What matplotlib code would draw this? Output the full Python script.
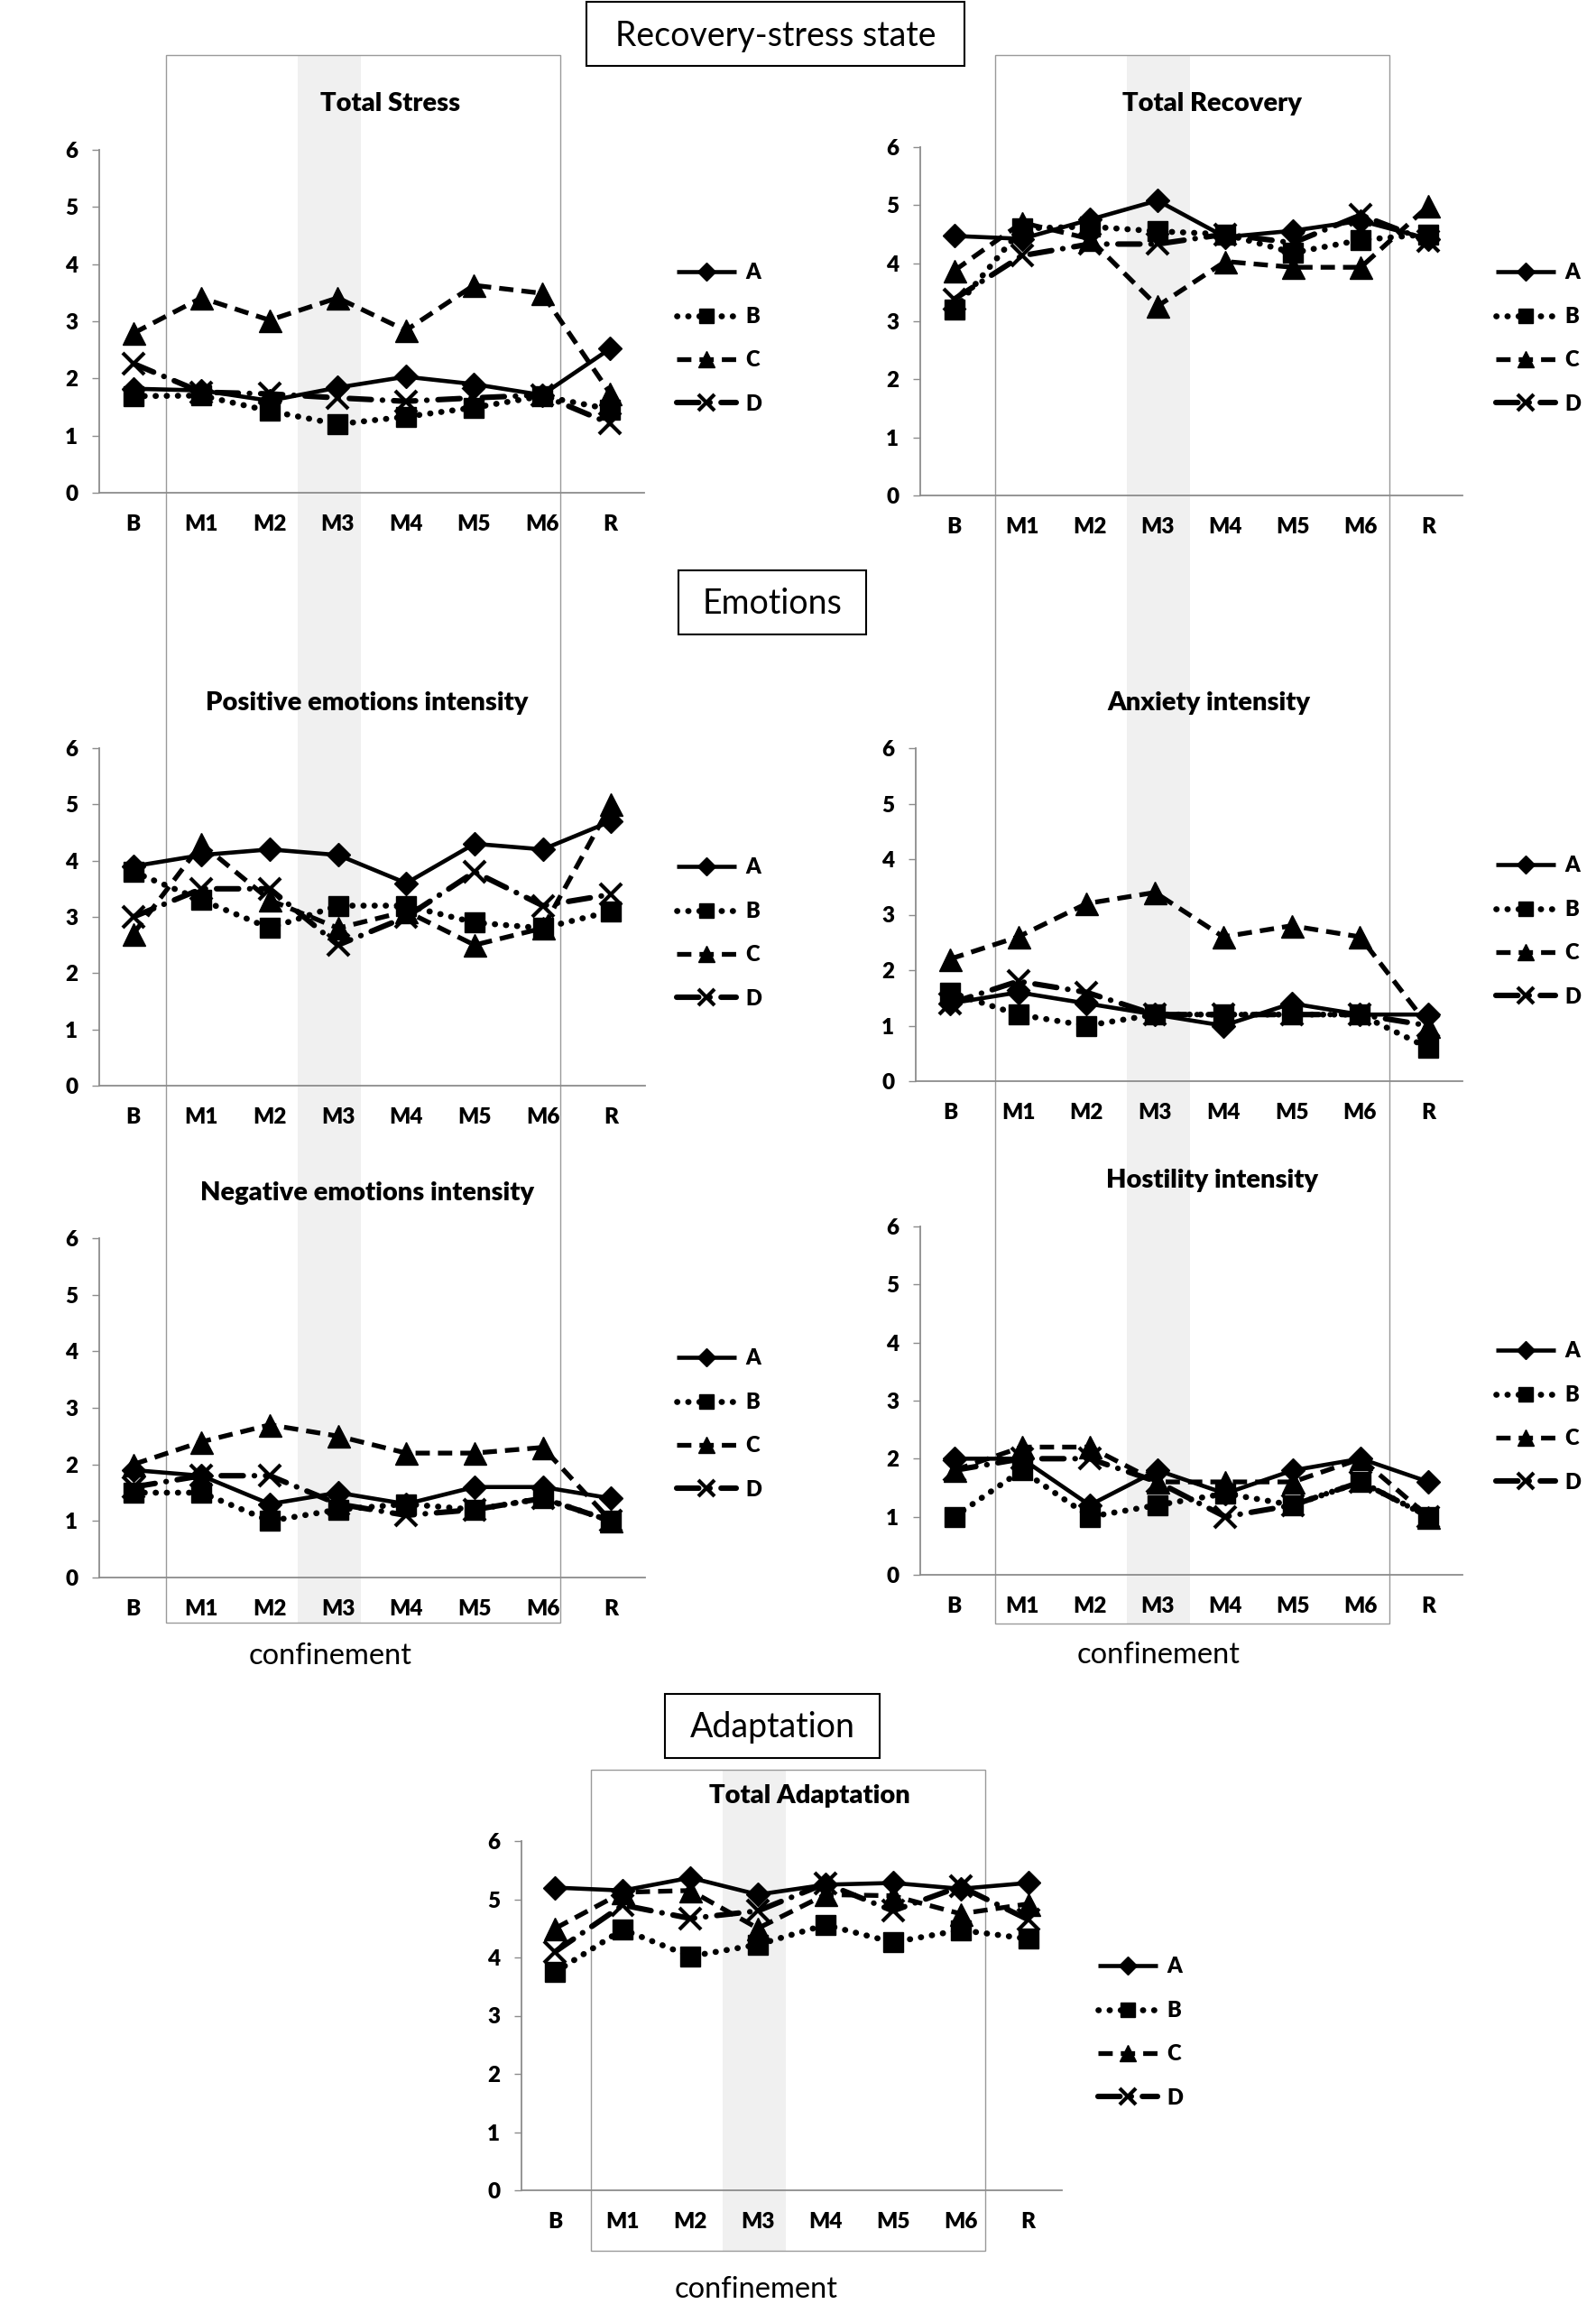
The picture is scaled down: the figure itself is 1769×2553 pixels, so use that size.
import matplotlib
matplotlib.use("Agg")
import matplotlib.pyplot as plt
from matplotlib.patches import Rectangle

plt.rcParams['font.family'] = ['Lato', 'DejaVu Sans']

W, H = 1769, 2553

times = ["B", "M1", "M2", "M3", "M4", "M5", "M6", "R"]
groups = ["A", "B", "C", "D"]

stress_A = [1.82, 1.79, 1.61, 1.84, 2.03, 1.90, 1.71, 2.52]
stress_B = [1.69, 1.70, 1.43, 1.20, 1.33, 1.49, 1.69, 1.46]
stress_C = [2.79, 3.41, 3.02, 3.41, 2.84, 3.63, 3.49, 1.74]
stress_D = [2.26, 1.76, 1.73, 1.66, 1.60, 1.66, 1.71, 1.21]

recovery_A = [4.47, 4.42, 4.75, 5.08, 4.45, 4.56, 4.73, 4.42]
recovery_B = [3.20, 4.60, 4.63, 4.55, 4.50, 4.18, 4.40, 4.50]
recovery_C = [3.87, 4.70, 4.42, 3.26, 4.03, 3.93, 3.93, 4.99]
recovery_D = [3.38, 4.13, 4.33, 4.33, 4.50, 4.35, 4.83, 4.38]

pos_A = [3.9, 4.1, 4.2, 4.1, 3.6, 4.3, 4.2, 4.7]
pos_B = [3.8, 3.3, 2.8, 3.2, 3.2, 2.9, 2.8, 3.1]
pos_C = [2.7, 4.3, 3.3, 2.8, 3.1, 2.5, 2.8, 5.0]
pos_D = [3.0, 3.5, 3.5, 2.5, 3.0, 3.8, 3.2, 3.4]

anx_A = [1.4, 1.6, 1.4, 1.2, 1.0, 1.4, 1.2, 1.2]
anx_B = [1.6, 1.2, 1.0, 1.2, 1.2, 1.2, 1.2, 0.6]
anx_C = [2.2, 2.6, 3.2, 3.4, 2.6, 2.8, 2.6, 1.0]
anx_D = [1.4, 1.8, 1.6, 1.2, 1.2, 1.2, 1.2, 1.0]

neg_A = [1.9, 1.8, 1.3, 1.5, 1.3, 1.6, 1.6, 1.4]
neg_B = [1.5, 1.5, 1.0, 1.2, 1.3, 1.2, 1.4, 1.0]
neg_C = [2.0, 2.4, 2.7, 2.5, 2.2, 2.2, 2.3, 1.0]
neg_D = [1.6, 1.8, 1.8, 1.3, 1.1, 1.2, 1.4, 1.0]

host_A = [2.0, 2.0, 1.2, 1.8, 1.4, 1.8, 2.0, 1.6]
host_B = [1.0, 1.8, 1.0, 1.2, 1.4, 1.2, 1.6, 1.0]
host_C = [1.8, 2.2, 2.2, 1.6, 1.6, 1.6, 2.0, 1.0]
host_D = [1.8, 2.0, 2.0, 1.6, 1.0, 1.2, 1.6, 1.0]

adapt_A = [5.20, 5.15, 5.37, 5.08, 5.25, 5.28, 5.18, 5.28]
adapt_B = [3.75, 4.48, 4.02, 4.22, 4.56, 4.26, 4.47, 4.32]
adapt_C = [4.50, 5.12, 5.15, 4.50, 5.08, 5.06, 4.75, 4.92]
adapt_D = [4.10, 4.90, 4.67, 4.80, 5.27, 4.80, 5.22, 4.65]

# line look for each group
styles = {
    "A": dict(ls="-", marker="D", ms=13, lw=3.3),
    "B": dict(ls=(0, (0.05, 1.8)), marker="s", ms=16, lw=4.8, dash_capstyle="round"),
    "C": dict(ls=(0, (3.0, 1.7)), marker="^", ms=18, lw=3.8, dash_capstyle="butt"),
    "D": dict(ls=(0, (4.0, 2.0, 0.05, 2.0)), marker="x", ms=17, mew=3.0, lw=4.4,
              dash_capstyle="round"),
}

fig = plt.figure(figsize=(W / 100, H / 100), dpi=100)


def fx(px):
    return px / W


def fy(py):
    return 1 - py / H


def panel(box, title, title_xy, series, leg_x, leg_y):
    l, r, top, bot = box
    ax = fig.add_axes([fx(l), fy(bot), fx(r - l), (bot - top) / H])
    ax.patch.set_visible(False)
    x = range(len(times))
    for g, vals in zip(groups, series):
        ax.plot(x, vals, color="black", label=g, solid_capstyle="butt", **styles[g])
    ax.set_xlim(-0.5, len(times) - 0.5)
    ax.set_ylim(0, 6)
    ax.set_yticks(range(7))
    ax.set_xticks(list(x))
    ax.set_xticklabels(times)
    for s in ["top", "right"]:
        ax.spines[s].set_visible(False)
    for s in ["left", "bottom"]:
        ax.spines[s].set_color("#8c8c8c")
        ax.spines[s].set_linewidth(1.3)
    ax.tick_params(axis="y", length=6, width=1, color="#8c8c8c", pad=11,
                   labelsize=17.5)
    ax.tick_params(axis="x", length=0, pad=17, labelsize=17.5)
    for t in ax.get_xticklabels() + ax.get_yticklabels():
        t.set_fontweight("heavy")
    fig.text(fx(title_xy[0]), fy(title_xy[1]), title, ha="center", va="center",
             fontsize=21, fontweight="heavy")
    ax.legend(loc="center left", bbox_to_anchor=(fx(leg_x), fy(leg_y)),
              bbox_transform=fig.transFigure, frameon=False,
              prop={"size": 17, "weight": "heavy"}, handlelength=2.8,
              handletextpad=0.45, labelspacing=1.12, borderpad=0,
              borderaxespad=0, markerscale=0.75)
    return ax


panel((110, 714, 166, 546), "Total Stress", (433, 115),
      [stress_A, stress_B, stress_C, stress_D], 750, 375)
panel((1020, 1621, 163, 549), "Total Recovery", (1343, 115),
      [recovery_A, recovery_B, recovery_C, recovery_D], 1658, 375)
panel((110, 715, 829, 1203), "Positive emotions intensity", (407, 779),
      [pos_A, pos_B, pos_C, pos_D], 750, 1034)
panel((1015, 1621, 829, 1198), "Anxiety intensity", (1340, 779),
      [anx_A, anx_B, anx_C, anx_D], 1658, 1032)
panel((110, 715, 1372, 1748), "Negative emotions intensity", (407, 1322),
      [neg_A, neg_B, neg_C, neg_D], 750, 1578)
panel((1020, 1621, 1359, 1745), "Hostility intensity", (1343, 1308),
      [host_A, host_B, host_C, host_D], 1658, 1570)
panel((578, 1177, 2040, 2427), "Total Adaptation", (897, 1990),
      [adapt_A, adapt_B, adapt_C, adapt_D], 1217, 2252)


# confinement frames and the grey M3 band (pasted over the charts)
def frame(l, r, top, bot, band_l, band_r):
    fig.patches.append(Rectangle((fx(band_l), fy(bot)), fx(band_r - band_l),
                                 (bot - top) / H, transform=fig.transFigure,
                                 facecolor="#f0f0f0", edgecolor="none",
                                 zorder=-2))
    fig.patches.append(Rectangle((fx(l), fy(bot)), fx(r - l), (bot - top) / H,
                                 transform=fig.transFigure, facecolor="none",
                                 edgecolor="#9a9a9a", lw=1.0, zorder=-1))


frame(184, 621, 61, 1798, 330, 400)
frame(1103, 1540, 61, 1799, 1249, 1319)
frame(655, 1092, 1961, 2494, 801, 871)

for cx, cy in [(366, 1835), (1284, 1834), (838, 2537)]:
    fig.text(fx(cx), fy(cy), "confinement", ha="center", va="center",
             fontsize=23.5)


# section headers
def header(text, l, r, top, bot):
    fig.patches.append(Rectangle((fx(l), fy(bot)), fx(r - l), (bot - top) / H,
                                 transform=fig.transFigure, facecolor="white",
                                 edgecolor="black", lw=1.5))
    fig.text(fx((l + r) / 2), fy((top + bot) / 2 + 2), text, ha="center",
             va="center", fontsize=27)


header("Recovery-stress state", 650, 1069, 2, 73)
header("Emotions", 752, 960, 632, 703)
header("Adaptation", 737, 975, 1877, 1948)

fig.savefig("out.png", dpi=100)
